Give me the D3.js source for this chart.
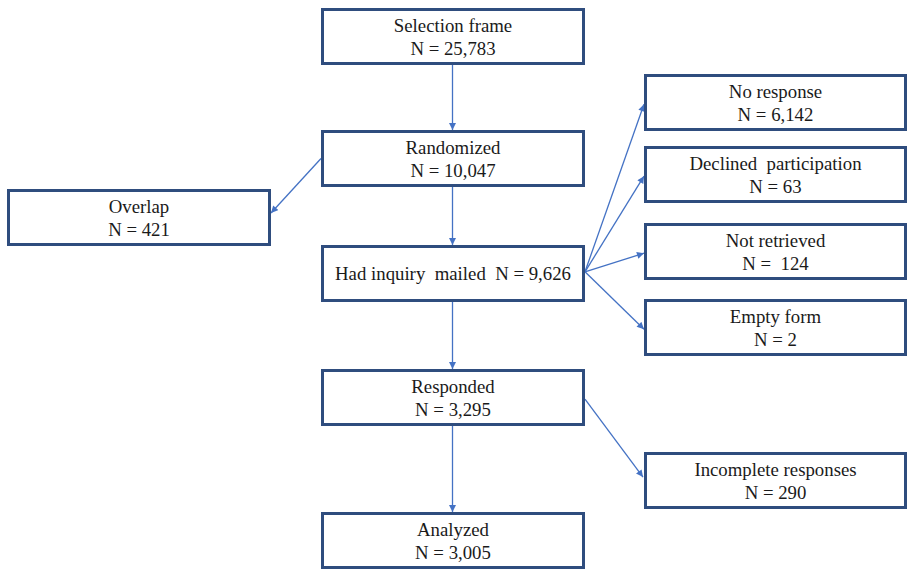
<!DOCTYPE html>
<html><head><meta charset="utf-8">
<script src="https://cdn.jsdelivr.net/npm/d3@7"></script>
<style>
html,body{margin:0;padding:0;background:#fff;}
svg text{white-space:pre;}
</style></head>
<body><svg id="c" width="907" height="569"></svg>
<script>
// ---- data ----
const nodeIds   = ["frame","rand","overlap","mailed","noresp","declined","notret","empty","resp","incomplete","analyzed"];
const nodeNames = ["Selection frame","Randomized","Overlap","Had inquiry  mailed","No response","Declined  participation","Not retrieved","Empty form","Responded","Incomplete responses","Analyzed"];
const nodeCounts= ["25,783","10,047","421","9,626","6,142","63"," 124","2","3,295","290","3,005"];
const linkSource= ["frame","rand","rand","mailed","mailed","mailed","mailed","mailed","resp","resp"];
const linkTarget= ["rand","overlap","mailed","noresp","declined","notret","empty","resp","incomplete","analyzed"];

// ---- layout (positions, separate from data) ----
const colOf = {frame:"main",rand:"main",overlap:"left",mailed:"main",noresp:"right",declined:"right",notret:"right",empty:"right",resp:"main",incomplete:"right",analyzed:"main"};
const topOf = {frame:8,rand:130,overlap:189,mailed:245,noresp:74,declined:146,notret:223,empty:299,resp:369,incomplete:452,analyzed:512};
const singleLine = {mailed:true};

const x = d3.scaleOrdinal().domain(["left","main","right"]).range([7,321,644]);
const y = d3.scaleOrdinal().domain(Object.keys(topOf)).range(Object.values(topOf));
const boxW = {left:264,main:264,right:263};
const boxH = 57;
const FONT = "'Liberation Serif','Times New Roman','DejaVu Serif',serif";
const FS = 18.8;

const svg = d3.select("#c");
const defs = svg.append("defs");
defs.append("marker").attr("id","ah").attr("viewBox","0 0 10 10").attr("refX",10).attr("refY",5)
  .attr("markerWidth",8).attr("markerHeight",7).attr("orient","auto").attr("markerUnits","userSpaceOnUse")
  .append("path").attr("d","M0,0 L10,5 L0,10 z").attr("fill","#4472C4");

const nodes = nodeIds.map((id,i)=>{
  const c = colOf[id];
  return {id, name:nodeNames[i], n:nodeCounts[i], c, x0:x(c), y0:y(id), w:boxW[c], h:boxH};
});
const byId = Object.fromEntries(nodes.map(n=>[n.id,n]));

const links = linkSource.map((s,i)=>({s:byId[s], t:byId[linkTarget[i]]}));
function endpoints(l){
  const s=l.s,t=l.t;
  if(s.c===t.c){ const cx=s.x0+s.w/2 - 0.5; return [cx,s.y0+s.h,cx,t.y0]; }
  if(t.c==="left"){ return [s.x0, s.y0+s.h*0.5, t.x0+t.w, t.y0+t.h*0.42]; }
  if(s.id==="resp") return [s.x0+s.w, s.y0+s.h*0.53, t.x0-1, t.y0+t.h*0.44];
  return [s.x0+s.w, s.y0+s.h*0.47, t.x0, t.y0+t.h*0.53];
}
svg.append("g").selectAll("line").data(links).join("line")
  .each(function(l){ const [x1,y1,x2,y2]=endpoints(l);
    d3.select(this).attr("x1",x1).attr("y1",y1).attr("x2",x2).attr("y2",y2); })
  .attr("stroke","#4472C4").attr("stroke-width",1.3).attr("marker-end","url(#ah)");

const g = svg.append("g").selectAll("g").data(nodes).join("g");
g.append("rect").attr("x",d=>d.x0+1.5).attr("y",d=>d.y0+1.5).attr("width",d=>d.w-3).attr("height",d=>d.h-3)
  .attr("fill","#fff").attr("stroke","#2F4D7E").attr("stroke-width",3);
g.each(function(d){
  const gg=d3.select(this), cx=d.x0+d.w/2;
  if(singleLine[d.id]){
    gg.append("text").attr("x",cx).attr("y",d.y0+d.h/2+6).attr("text-anchor","middle")
      .attr("font-family",FONT).attr("font-size",FS).attr("fill","#1a1a1a")
      .text(d.name+"  N = "+d.n);
  } else {
    gg.append("text").attr("x",cx).attr("y",d.y0+24).attr("text-anchor","middle")
      .attr("font-family",FONT).attr("font-size",FS).attr("fill","#1a1a1a").text(d.name);
    gg.append("text").attr("x",cx).attr("y",d.y0+47).attr("text-anchor","middle")
      .attr("font-family",FONT).attr("font-size",FS).attr("fill","#1a1a1a").text("N = "+d.n);
  }
});
</script></body></html>
